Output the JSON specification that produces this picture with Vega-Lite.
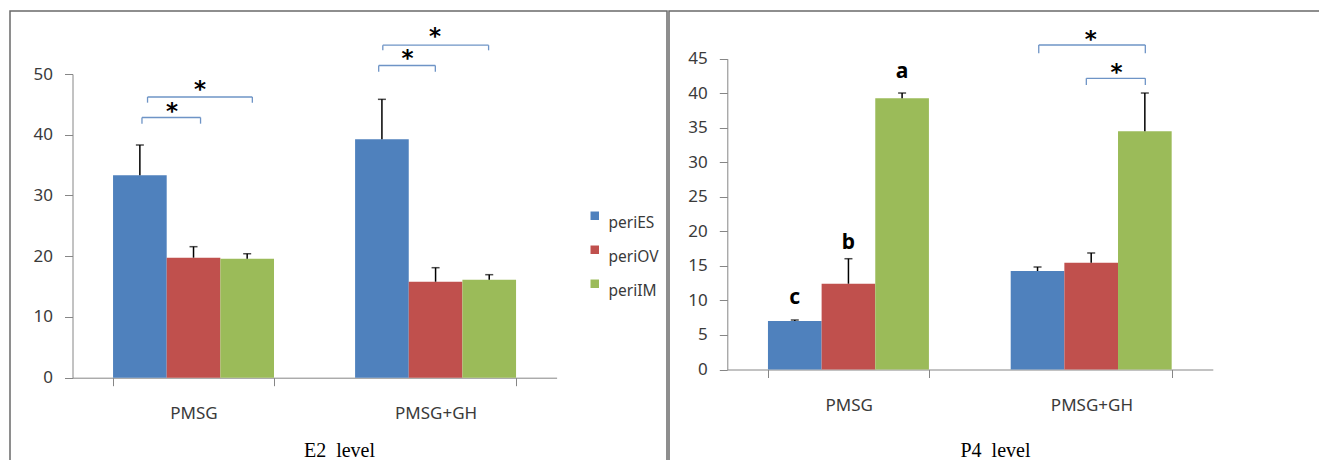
{
  "$schema": "https://vega.github.io/schema/vega-lite/v6.json",
  "padding": {"left": 9, "top": 10, "right": 0, "bottom": 0},
  "background": "white",
  "spacing": 0,
  "config": {
    "view": {"stroke": "#6a6a6a", "strokeWidth": 1.5},
    "axis": {"domainColor": "#868686", "tickColor": "#868686", "tickSize": 8, "labelFont": "Noto Sans", "labelFontSize": 17, "labelColor": "#3a3a3a", "grid": false, "domainWidth": 1, "tickWidth": 1},
    "legend": {"labelFont": "Noto Sans", "labelFontSize": 15.5, "labelColor": "#3a3a3a", "symbolType": "square", "symbolSize": 72, "symbolStrokeWidth": 0, "labelBaseline": "top", "rowPadding": 10, "padding": 0, "labelLimit": 200}
  },
  "datasets": {
    "e2": [
      {"group": "PMSG", "series": "periES", "value": 33.32, "err": 38.31},
      {"group": "PMSG", "series": "periOV", "value": 19.76, "err": 21.57},
      {"group": "PMSG", "series": "periIM", "value": 19.59, "err": 20.41},
      {"group": "PMSG+GH", "series": "periES", "value": 39.25, "err": 45.83},
      {"group": "PMSG+GH", "series": "periOV", "value": 15.8, "err": 18.11},
      {"group": "PMSG+GH", "series": "periIM", "value": 16.13, "err": 16.96}
    ],
    "p4": [
      {"group": "PMSG", "series": "periES", "value": 7.02, "err": 7.17, "label": "c", "ly": 9.48},
      {"group": "PMSG", "series": "periOV", "value": 12.42, "err": 16.04, "label": "b", "ly": 17.45},
      {"group": "PMSG", "series": "periIM", "value": 39.26, "err": 40.03, "label": "a", "ly": 42.2},
      {"group": "PMSG+GH", "series": "periES", "value": 14.26, "err": 14.84, "label": "", "ly": 0},
      {"group": "PMSG+GH", "series": "periOV", "value": 15.46, "err": 16.87, "label": "", "ly": 0},
      {"group": "PMSG+GH", "series": "periIM", "value": 34.49, "err": 40.03, "label": "", "ly": 0}
    ],
    "e2br": [
      {"x1": 0.287, "x2": 0.529, "y": 42.84, "leg": 41.82, "sx": 0.411, "sy": 44.73},
      {"x1": 0.31, "x2": 0.743, "y": 46.21, "leg": 45.28, "sx": 0.527, "sy": 48.4},
      {"x1": 1.265, "x2": 1.499, "y": 51.4, "leg": 50.38, "sx": 1.384, "sy": 53.41},
      {"x1": 1.282, "x2": 1.719, "y": 54.74, "leg": 53.9, "sx": 1.498, "sy": 57.08}
    ],
    "p4br": [
      {"x1": 1.283, "x2": 1.722, "y": 46.98, "leg": 45.78, "sx": 1.497, "sy": 48.53},
      {"x1": 1.479, "x2": 1.722, "y": 42.16, "leg": 41.19, "sx": 1.603, "sy": 43.8}
    ]
  },
  "hconcat": [
    {
      "width": 657,
      "height": 460,
      "layer": [
        {
          "data": {"name": "e2"},
          "layer": [
            {
              "mark": {"type": "bar"},
              "encoding": {
                "x": {"field": "group", "type": "nominal", "sort": ["PMSG", "PMSG+GH"],
                  "scale": {"range": [62.5, 546.6], "paddingInner": 0.335, "paddingOuter": 0.1675},
                  "axis": {"offset": -93.3, "tickBand": "extent", "labelAngle": 0, "labelPadding": 20, "title": "E2\u00a0 level", "titleFont": "Liberation Serif", "titleFontSize": 20, "titleFontWeight": "normal", "titleColor": "#000", "titleX": 329, "titleY": 78.3, "titleBaseline": "alphabetic", "titleAlign": "center"}},
                "xOffset": {"field": "series", "type": "nominal", "sort": ["periES", "periOV", "periIM"], "scale": {"paddingInner": 0, "paddingOuter": 0}},
                "y": {"field": "value", "type": "quantitative", "title": null,
                  "scale": {"domain": [0, 50], "range": [366.7, 63], "nice": false, "zero": true},
                  "axis": {"values": [0, 10, 20, 30, 40, 50], "offset": -62.5, "labelPadding": 12, "title": null}},
                "color": {"field": "series", "type": "nominal", "sort": ["periES", "periOV", "periIM"],
                  "scale": {"domain": ["periES", "periOV", "periIM"], "range": ["#4F81BD", "#C0504D", "#9BBB59"]},
                  "legend": {"orient": "none", "legendX": 577, "legendY": 197, "title": null, "labelFontSize": 15.5, "labelOffset": 6, "rowPadding": 10}}
              }
            },
            {
              "mark": {"type": "rule", "color": "#000", "strokeWidth": 1.5},
              "encoding": {
                "x": {"field": "group", "type": "nominal", "sort": ["PMSG", "PMSG+GH"]},
                "xOffset": {"field": "series", "type": "nominal", "sort": ["periES", "periOV", "periIM"]},
                "y": {"field": "value", "type": "quantitative", "title": null},
                "y2": {"field": "err"}
              }
            },
            {
              "mark": {"type": "tick", "orient": "horizontal", "color": "#000", "size": 8, "thickness": 1.5},
              "encoding": {
                "x": {"field": "group", "type": "nominal", "sort": ["PMSG", "PMSG+GH"]},
                "xOffset": {"field": "series", "type": "nominal", "sort": ["periES", "periOV", "periIM"]},
                "y": {"field": "err", "type": "quantitative", "title": null}
              }
            }
          ]
        },
        {
          "data": {"name": "e2br"},
          "layer": [
            {
              "mark": {"type": "rule", "color": "#6E94C6", "strokeWidth": 1.3},
              "encoding": {
                "x": {"field": "x1", "type": "quantitative", "scale": {"domain": [0, 2], "range": [62.5, 546.6], "nice": false, "zero": false}, "axis": null},
                "x2": {"field": "x2"},
                "y": {"field": "y", "type": "quantitative", "title": null}
              }
            },
            {
              "mark": {"type": "rule", "color": "#6E94C6", "strokeWidth": 1.3},
              "encoding": {
                "x": {"field": "x1", "type": "quantitative", "axis": null},
                "y": {"field": "y", "type": "quantitative", "title": null},
                "y2": {"field": "leg"}
              }
            },
            {
              "mark": {"type": "rule", "color": "#6E94C6", "strokeWidth": 1.3},
              "encoding": {
                "x": {"field": "x2", "type": "quantitative", "axis": null},
                "y": {"field": "y", "type": "quantitative", "title": null},
                "y2": {"field": "leg"}
              }
            },
            {
              "mark": {"type": "text", "text": "*", "font": "DejaVu Sans", "fontSize": 23, "fontWeight": "bold", "color": "#000", "baseline": "middle", "align": "center", "dy": 6},
              "encoding": {
                "x": {"field": "sx", "type": "quantitative", "axis": null},
                "y": {"field": "sy", "type": "quantitative", "title": null}
              }
            }
          ]
        }
      ],
      "resolve": {"scale": {"x": "independent"}, "axis": {"x": "independent"}}
    },
    {
      "width": 651,
      "height": 460,
      "layer": [
        {
          "data": {"name": "p4"},
          "layer": [
            {
              "mark": {"type": "bar"},
              "encoding": {
                "x": {"field": "group", "type": "nominal", "sort": ["PMSG", "PMSG+GH"],
                  "scale": {"range": [58.3, 543.8], "paddingInner": 0.335, "paddingOuter": 0.1675},
                  "axis": {"offset": -101.5, "tickBand": "extent", "labelAngle": 0, "labelPadding": 20, "title": "P4\u00a0 level", "titleFont": "Liberation Serif", "titleFontSize": 20, "titleFontWeight": "normal", "titleColor": "#000", "titleX": 326, "titleY": 86.5, "titleBaseline": "alphabetic", "titleAlign": "center"}},
                "xOffset": {"field": "series", "type": "nominal", "sort": ["periES", "periOV", "periIM"], "scale": {"paddingInner": 0, "paddingOuter": 0}},
                "y": {"field": "value", "type": "quantitative", "title": null,
                  "scale": {"domain": [0, 45], "range": [358.5, 47.7], "nice": false, "zero": true},
                  "axis": {"values": [0, 5, 10, 15, 20, 25, 30, 35, 40, 45], "offset": -58.3, "labelPadding": 12, "title": null}},
                "color": {"field": "series", "type": "nominal", "sort": ["periES", "periOV", "periIM"],
                  "scale": {"domain": ["periES", "periOV", "periIM"], "range": ["#4F81BD", "#C0504D", "#9BBB59"]},
                  "legend": {"orient": "none", "legendX": 575.75, "legendY": 190.5, "title": null, "labelFontSize": 15.5, "labelOffset": 8, "rowPadding": 10}}
              }
            },
            {
              "mark": {"type": "rule", "color": "#000", "strokeWidth": 1.5},
              "encoding": {
                "x": {"field": "group", "type": "nominal", "sort": ["PMSG", "PMSG+GH"]},
                "xOffset": {"field": "series", "type": "nominal", "sort": ["periES", "periOV", "periIM"]},
                "y": {"field": "value", "type": "quantitative", "title": null},
                "y2": {"field": "err"}
              }
            },
            {
              "mark": {"type": "tick", "orient": "horizontal", "color": "#000", "size": 8, "thickness": 1.5},
              "encoding": {
                "x": {"field": "group", "type": "nominal", "sort": ["PMSG", "PMSG+GH"]},
                "xOffset": {"field": "series", "type": "nominal", "sort": ["periES", "periOV", "periIM"]},
                "y": {"field": "err", "type": "quantitative", "title": null}
              }
            },
            {
              "mark": {"type": "text", "font": "Noto Sans", "fontSize": 21, "fontWeight": "bold", "color": "#000", "baseline": "alphabetic", "align": "center"},
              "encoding": {
                "x": {"field": "group", "type": "nominal", "sort": ["PMSG", "PMSG+GH"]},
                "xOffset": {"field": "series", "type": "nominal", "sort": ["periES", "periOV", "periIM"]},
                "y": {"field": "ly", "type": "quantitative", "title": null},
                "text": {"field": "label"}
              }
            }
          ]
        },
        {
          "data": {"name": "p4br"},
          "layer": [
            {
              "mark": {"type": "rule", "color": "#6E94C6", "strokeWidth": 1.3},
              "encoding": {
                "x": {"field": "x1", "type": "quantitative", "scale": {"domain": [0, 2], "range": [58.3, 543.8], "nice": false, "zero": false}, "axis": null},
                "x2": {"field": "x2"},
                "y": {"field": "y", "type": "quantitative", "title": null}
              }
            },
            {
              "mark": {"type": "rule", "color": "#6E94C6", "strokeWidth": 1.3},
              "encoding": {
                "x": {"field": "x1", "type": "quantitative", "axis": null},
                "y": {"field": "y", "type": "quantitative", "title": null},
                "y2": {"field": "leg"}
              }
            },
            {
              "mark": {"type": "rule", "color": "#6E94C6", "strokeWidth": 1.3},
              "encoding": {
                "x": {"field": "x2", "type": "quantitative", "axis": null},
                "y": {"field": "y", "type": "quantitative", "title": null},
                "y2": {"field": "leg"}
              }
            },
            {
              "mark": {"type": "text", "text": "*", "font": "DejaVu Sans", "fontSize": 23, "fontWeight": "bold", "color": "#000", "baseline": "middle", "align": "center", "dy": 6},
              "encoding": {
                "x": {"field": "sx", "type": "quantitative", "axis": null},
                "y": {"field": "sy", "type": "quantitative", "title": null}
              }
            }
          ]
        }
      ],
      "resolve": {"scale": {"x": "independent"}, "axis": {"x": "independent"}}
    }
  ]
}
